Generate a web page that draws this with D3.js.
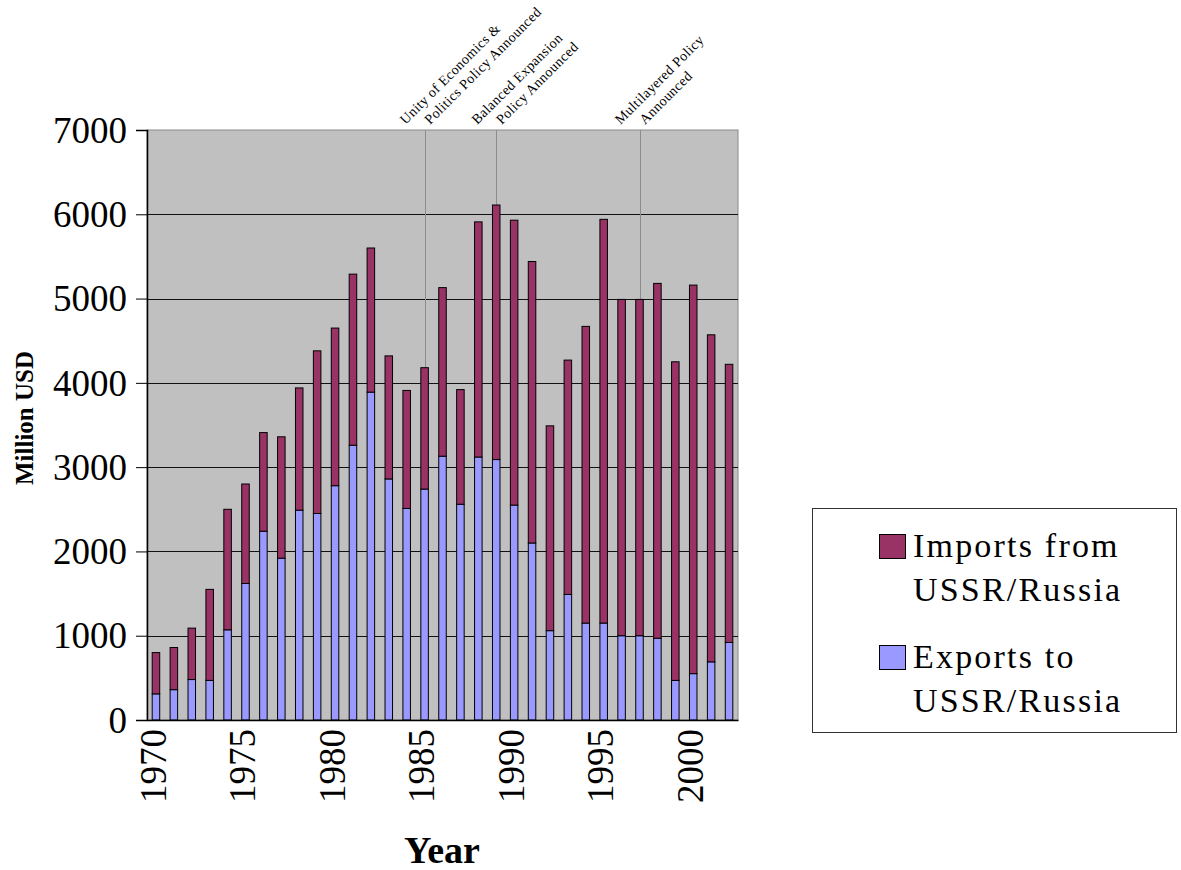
<!DOCTYPE html>
<html>
<head>
<meta charset="utf-8">
<script src="https://cdn.jsdelivr.net/npm/d3@7/dist/d3.min.js"></script>
<style>
  html, body { margin: 0; padding: 0; background: #fff; }
  svg { display: block; font-family: "Liberation Serif", "Times New Roman", serif; }
</style>
</head>
<body>
<svg id="chart" width="1181" height="870"></svg>
<script>
// Trade with USSR/Russia, million USD per year
const years = [1970, 1971, 1972, 1973, 1974, 1975, 1976, 1977, 1978, 1979,
               1980, 1981, 1982, 1983, 1984, 1985, 1986, 1987, 1988, 1989,
               1990, 1991, 1992, 1993, 1994, 1995, 1996, 1997, 1998, 1999,
               2000, 2001, 2002];
const exportsToRussia = [310, 360, 480, 470, 1070, 1620, 2240, 1920, 2490, 2450,
                         2780, 3260, 3890, 2860, 2510, 2740, 3130, 2560, 3120, 3090,
                         2550, 2100, 1060, 1490, 1150, 1150, 1000, 1000, 970, 470,
                         550, 690, 920];
const importsFromRussia = [490, 500, 610, 1080, 1430, 1180, 1170, 1440, 1450, 1930,
                           1870, 2030, 1710, 1460, 1400, 1440, 2000, 1360, 2790, 3020,
                           3380, 3340, 2430, 2780, 3520, 4790, 3990, 3990, 4210, 3780,
                           4610, 3880, 3300];
const yTicks = [0, 1000, 2000, 3000, 4000, 5000, 6000, 7000];
const xTickYears = [1970, 1975, 1980, 1985, 1990, 1995, 2000];
const policyEvents = [
  { year: 1985, lines: ["Unity of Economics &", "Politics Policy Announced"] },
  { year: 1989, lines: ["Balanced Expansion", "Policy Announced"] },
  { year: 1997, lines: ["Multilayered Policy", "Announced"] }
];
const seriesNames = ["Imports from|USSR/Russia", "Exports to|USSR/Russia"];

const colors = { imports: "#993366", exports: "#9999FF" };

const svg = d3.select("#chart");
const plot = { left: 147, right: 738, top: 130, bottom: 720 };

const x = d3.scaleBand()
  .domain(years)
  .range([plot.left, plot.right])
  .paddingInner(0.58)
  .paddingOuter(0.29);

const y = d3.scaleLinear()
  .domain([0, 7000])
  .range([plot.bottom, plot.top]);

// plot background
svg.append("rect")
  .attr("x", plot.left).attr("y", plot.top)
  .attr("width", plot.right - plot.left).attr("height", plot.bottom - plot.top)
  .attr("fill", "#C0C0C0")
  .attr("stroke", "#8a8a8a").attr("stroke-width", 1);

// horizontal gridlines
svg.append("g")
  .selectAll("line")
  .data(yTicks.filter(d => d > 0 && d < 7000))
  .join("line")
  .attr("x1", plot.left).attr("x2", plot.right)
  .attr("y1", d => Math.round(y(d)) + 0.5).attr("y2", d => Math.round(y(d)) + 0.5)
  .attr("stroke", "#111").attr("stroke-width", 1);

// policy event markers (behind bars)
svg.append("g")
  .selectAll("line")
  .data(policyEvents)
  .join("line")
  .attr("x1", d => Math.round(x(d.year) + x.bandwidth() / 2) + 0.5)
  .attr("x2", d => Math.round(x(d.year) + x.bandwidth() / 2) + 0.5)
  .attr("y1", plot.top).attr("y2", plot.bottom)
  .attr("stroke", "#8c8c8c").attr("stroke-width", 1);

// stacked bars
const rows = years.map((yr, i) => ({ year: yr, exports: exportsToRussia[i], imports: importsFromRussia[i] }));
const stacked = d3.stack().keys(["exports", "imports"])(rows);

svg.append("g")
  .selectAll("g")
  .data(stacked)
  .join("g")
  .attr("fill", s => colors[s.key])
  .selectAll("rect")
  .data(s => s)
  .join("rect")
  .attr("x", d => x(d.data.year))
  .attr("width", x.bandwidth())
  .attr("y", d => y(d[1]))
  .attr("height", d => y(d[0]) - y(d[1]))
  .attr("stroke", "#000").attr("stroke-width", 1);

// y axis
const yAxis = svg.append("g")
  .attr("transform", `translate(${plot.left},0)`)
  .call(d3.axisLeft(y).tickValues(yTicks).tickSize(11).tickPadding(9).tickFormat(d3.format("d")));
yAxis.select(".domain").attr("stroke", "#000").attr("stroke-width", 1.5);
yAxis.selectAll(".tick line").attr("stroke", "#000");
yAxis.selectAll(".tick text")
  .attr("font-family", "Liberation Serif, serif")
  .attr("font-size", 37)
  .attr("fill", "#000")
  .attr("dy", "0.33em");

// x axis
const xAxis = svg.append("g")
  .attr("transform", `translate(0,${plot.bottom})`)
  .call(d3.axisBottom(x).tickValues(xTickYears).tickSize(0).tickPadding(0));
xAxis.select(".domain").attr("stroke", "#000").attr("stroke-width", 1.5);
xAxis.selectAll(".tick text")
  .attr("font-family", "Liberation Serif, serif")
  .attr("font-size", 37)
  .attr("fill", "#000")
  .attr("transform", "rotate(-90)")
  .attr("text-anchor", "end")
  .attr("x", -9)
  .attr("y", 0)
  .attr("dy", "0.26em");

// axis titles
svg.append("text")
  .attr("transform", "translate(33,418) rotate(-90)")
  .attr("text-anchor", "middle")
  .attr("font-weight", "bold")
  .attr("font-size", 25)
  .text("Million USD");

svg.append("text")
  .attr("x", 442).attr("y", 863)
  .attr("text-anchor", "middle")
  .attr("font-weight", "bold")
  .attr("font-size", 38)
  .text("Year");

// policy annotations, slanted above the plot
const lineOffsets = [-19, 5.5];
const ann = svg.append("g")
  .selectAll("g")
  .data(policyEvents)
  .join("g");
ann.each(function (d) {
  const cx = x(d.year) + x.bandwidth() / 2;
  d.lines.forEach((t, i) => {
    d3.select(this).append("text")
      .attr("transform", `translate(${cx + lineOffsets[i]},125) rotate(-45)`)
      .attr("font-size", 14)
      .attr("letter-spacing", "0.4px")
      .text(t);
  });
});

// legend
const legend = svg.append("g");
legend.append("rect")
  .attr("x", 812.5).attr("y", 508.5)
  .attr("width", 364).attr("height", 224)
  .attr("fill", "#fff").attr("stroke", "#333").attr("stroke-width", 1);

const legendItems = [
  { name: seriesNames[0], color: colors.imports, top: 534, base: 557 },
  { name: seriesNames[1], color: colors.exports, top: 645, base: 668 }
];
legendItems.forEach(item => {
  legend.append("rect")
    .attr("x", 879.5).attr("y", item.top + 0.5)
    .attr("width", 26).attr("height", 24)
    .attr("fill", item.color).attr("stroke", "#000");
  item.name.split("|").forEach((t, i) => {
    legend.append("text")
      .attr("x", 913).attr("y", item.base + i * 44)
      .attr("font-size", 34)
      .attr("letter-spacing", "2.2px")
      .text(t);
  });
});
</script>
</body>
</html>
